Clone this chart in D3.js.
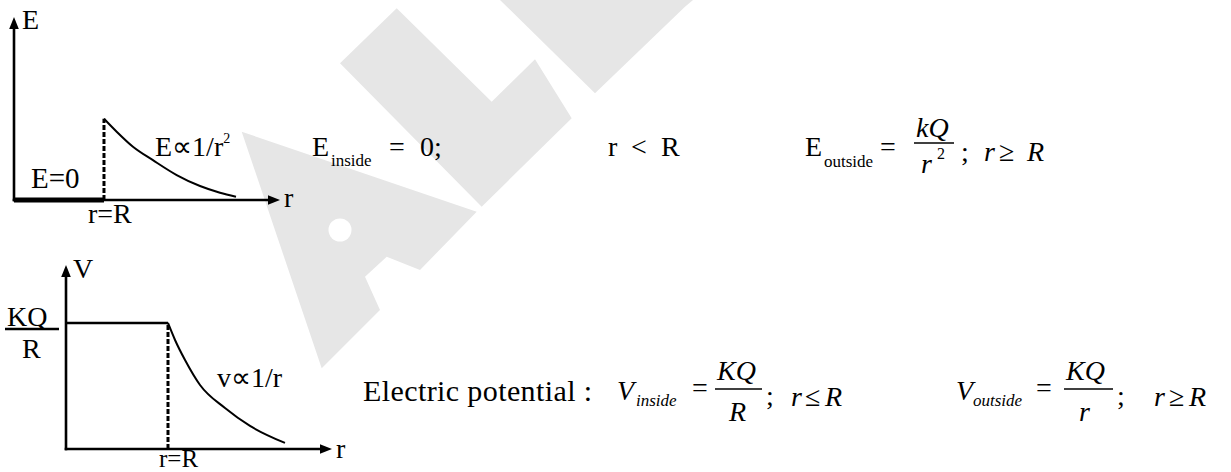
<!DOCTYPE html>
<html><head><meta charset="utf-8">
<script src="https://cdn.jsdelivr.net/npm/d3@7"></script>
<style>
html,body{margin:0;padding:0;background:#fff;overflow:hidden;}
svg{display:block;}
text{font-family:"Liberation Serif","Times New Roman",serif;fill:#000;}
</style>
</head><body>
<svg id="c" width="1231" height="472"></svg>
<script>
// ---------- data ----------
const surfaceR = 1;                       // r = R
const eInsideR = [0, 1];                  // E = 0 inside
const eInsideE = [0, 0];
const eOutsideR = [1, 1.141, 1.322, 1.544, 1.808, 2.067, 2.289, 2.467];
const eOutsideE = [1, 0.84, 0.655, 0.49, 0.307, 0.172, 0.09, 0.04];
const vInsideR = [0, 1];                  // V = KQ/R inside
const vInsideV = [1, 1];
const vOutsideR = [1, 1.069, 1.167, 1.314, 1.559, 1.804, 2.147];
const vOutsideV = [1, 0.865, 0.706, 0.508, 0.325, 0.183, 0.048];
const eAxisLabels = ["E", "r"];
const vAxisLabels = ["V", "r"];
const surfaceLabel = "r=R";

const svg = d3.select("#c");

// ---------- watermark (light grey logo in background) ----------
const wm = svg.append("g").attr("fill", "#e6e6e6");
const wmShapes = [
  [[241.7,131.7],[476.7,211.7],[420,270],[386.7,256.7],[365,276.7],[380,310],[321.7,368.3]],
  [[340,63.3],[396.7,8.3],[491.7,101.7],[535,59.3],[571.7,118.3],[481.7,206.7]],
  [[500,0],[693,0],[685,6.7],[595,93.3]]
];
wmShapes.forEach(p => wm.append("path").attr("d", "M" + p.join("L") + "Z"));
wm.append("circle").attr("cx", 340).attr("cy", 230).attr("r", 11.5).attr("fill", "#fff");

// ---------- helpers ----------
function arrowUp(g, x, y) {
  g.append("path").attr("d", `M${x},${y} L${x-4.8},${y+12} L${x+4.8},${y+12} Z`).attr("fill", "#000");
}
function arrowRight(g, x, y) {
  g.append("path").attr("d", `M${x},${y} L${x-12},${y-4.8} L${x-12},${y+4.8} Z`).attr("fill", "#000");
}
function txt(g, x, y, s, size, opts = {}) {
  const t = g.append("text").attr("x", x).attr("y", y).attr("font-size", size).text(s);
  if (opts.italic) t.attr("font-style", "italic");
  if (opts.ls) t.attr("letter-spacing", opts.ls);
  return t;
}

// ---------- Graph 1 : electric field ----------
const xE = d3.scaleLinear().domain([0, 2.956]).range([14, 280]);
const yE = d3.scaleLinear().domain([0, 2.25]).range([200, 17]);
const gE = svg.append("g");

const axE_x = gE.append("g").attr("transform", `translate(0,${yE(0)})`)
  .call(d3.axisBottom(xE).tickValues([]).tickSizeOuter(0));
const axE_y = gE.append("g").attr("transform", `translate(${xE(0)},0)`)
  .call(d3.axisLeft(yE).tickValues([]).tickSizeOuter(0));
[axE_x, axE_y].forEach(a => a.select(".domain").attr("stroke", "#000").attr("stroke-width", 2.6));
axE_x.select(".domain").attr("d", `M${xE(0)-1.3},0H${xE.range()[1]-10}`);
axE_y.select(".domain").attr("d", `M0,${yE(0)+1.3}V${yE.range()[1]+10}`);
arrowUp(gE, xE(0), yE.range()[1]);
arrowRight(gE, xE.range()[1], yE(0));

const lineE = d3.line().x(d => xE(d[0])).y(d => yE(d[1]));
gE.append("path").attr("d", lineE(d3.zip(eInsideR, eInsideE)))
  .attr("stroke", "#000").attr("stroke-width", 5).attr("fill", "none");
gE.append("line").attr("x1", xE(surfaceR)).attr("x2", xE(surfaceR))
  .attr("y1", yE(0)).attr("y2", yE(eOutsideE[0]))
  .attr("stroke", "#000").attr("stroke-width", 3).attr("stroke-dasharray", "5,2");
gE.append("path").attr("d", lineE.curve(d3.curveMonotoneX)(d3.zip(eOutsideR, eOutsideE)))
  .attr("stroke", "#000").attr("stroke-width", 2).attr("fill", "none");

txt(gE, 22, 29, eAxisLabels[0], 28);
txt(gE, 284, 207, eAxisLabels[1], 28);
txt(gE, 88, 223, surfaceLabel, 28);
txt(gE, 31, 188, "E=0", 29);
const tE = txt(gE, 155, 156, "E\u221D1/r", 28);
tE.append("tspan").attr("font-size", 14).attr("dy", -13).text("2");

// ---------- Graph 2 : potential ----------
const xV = d3.scaleLinear().domain([0, 2.608]).range([66, 332]);
const yV = d3.scaleLinear().domain([0, 1.46]).range([449, 265]);
const gV = svg.append("g");

const axV_x = gV.append("g").attr("transform", `translate(0,${yV(0)})`)
  .call(d3.axisBottom(xV).tickValues([]).tickSizeOuter(0));
const axV_y = gV.append("g").attr("transform", `translate(${xV(0)},0)`)
  .call(d3.axisLeft(yV).tickValues([]).tickSizeOuter(0));
[axV_x, axV_y].forEach(a => a.select(".domain").attr("stroke", "#000").attr("stroke-width", 2.6));
axV_x.select(".domain").attr("d", `M${xV(0)-1.3},0H${xV.range()[1]-10}`);
axV_y.select(".domain").attr("d", `M0,${yV(0)+1.3}V${yV.range()[1]+10}`);
arrowUp(gV, xV(0), yV.range()[1]);
arrowRight(gV, xV.range()[1], yV(0));

const lineV = d3.line().x(d => xV(d[0])).y(d => yV(d[1]));
gV.append("path").attr("d", lineV(d3.zip(vInsideR, vInsideV)))
  .attr("stroke", "#000").attr("stroke-width", 2.6).attr("fill", "none");
gV.append("line").attr("x1", xV(surfaceR)).attr("x2", xV(surfaceR))
  .attr("y1", yV(0)).attr("y2", yV(vInsideV[1]))
  .attr("stroke", "#000").attr("stroke-width", 3).attr("stroke-dasharray", "5,2");
gV.append("path").attr("d", lineV.curve(d3.curveMonotoneX)(d3.zip(vOutsideR, vOutsideV)))
  .attr("stroke", "#000").attr("stroke-width", 2).attr("fill", "none");

txt(gV, 73, 278, vAxisLabels[0], 28);
txt(gV, 336, 458, vAxisLabels[1], 28);
txt(gV, 159, 466.5, surfaceLabel, 25);
txt(gV, 7, 326, "KQ", 28);
gV.append("line").attr("x1", 5).attr("x2", 59).attr("y1", yV(1) + 6).attr("y2", yV(1) + 6)
  .attr("stroke", "#000").attr("stroke-width", 2.4);
txt(gV, 22, 358, "R", 28);
txt(gV, 217, 387, "v\u221D1/r", 28);

// ---------- formulas : top row ----------
const f = svg.append("g");
txt(f, 312, 156, "E", 28);
txt(f, 331, 166, "inside", 17);
txt(f, 389, 156, "=", 28);
txt(f, 420, 156, "0;", 28);
txt(f, 608, 156, "r", 28);
txt(f, 631, 156, "<", 28);
txt(f, 661, 156, "R", 28);

txt(f, 805, 156, "E", 28);
txt(f, 824, 167, "outside", 17);
txt(f, 880, 156, "=", 28);
txt(f, 916, 137, "kQ", 28, {italic: true});
f.append("line").attr("x1", 914).attr("x2", 954).attr("y1", 143).attr("y2", 143).attr("stroke", "#000").attr("stroke-width", 1.5);
txt(f, 921, 173, "r", 28, {italic: true});
txt(f, 937, 159, "2", 16);
txt(f, 961, 161, ";", 28);
txt(f, 984, 161, "r", 28, {italic: true});
txt(f, 999, 161, "\u2265", 28);
txt(f, 1027, 161, "R", 28, {italic: true});

// ---------- formulas : bottom row ----------
txt(f, 363, 401, "Electric potential :", 30, {ls: 0.4});
txt(f, 617, 400, "V", 28, {italic: true});
txt(f, 636, 406, "inside", 17, {italic: true});
txt(f, 692, 397, "=", 28);
txt(f, 717, 380, "KQ", 28, {italic: true});
f.append("line").attr("x1", 715).attr("x2", 762).attr("y1", 389).attr("y2", 389).attr("stroke", "#000").attr("stroke-width", 1.5);
txt(f, 729, 421, "R", 28, {italic: true});
txt(f, 766, 405, ";", 28);
txt(f, 791, 406, "r", 28, {italic: true});
txt(f, 805, 406, "\u2264", 28);
txt(f, 825, 406, "R", 28, {italic: true});

txt(f, 956, 400, "V", 28, {italic: true});
txt(f, 973, 406, "outside", 17, {italic: true});
txt(f, 1036, 397, "=", 28);
txt(f, 1066, 380, "KQ", 28, {italic: true});
f.append("line").attr("x1", 1064).attr("x2", 1113).attr("y1", 389).attr("y2", 389).attr("stroke", "#000").attr("stroke-width", 1.5);
txt(f, 1079, 421, "r", 28, {italic: true});
txt(f, 1117, 405, ";", 28);
txt(f, 1154, 406, "r", 28, {italic: true});
txt(f, 1169, 406, "\u2265", 28);
txt(f, 1189, 406, "R", 28, {italic: true});
</script>
</body></html>
